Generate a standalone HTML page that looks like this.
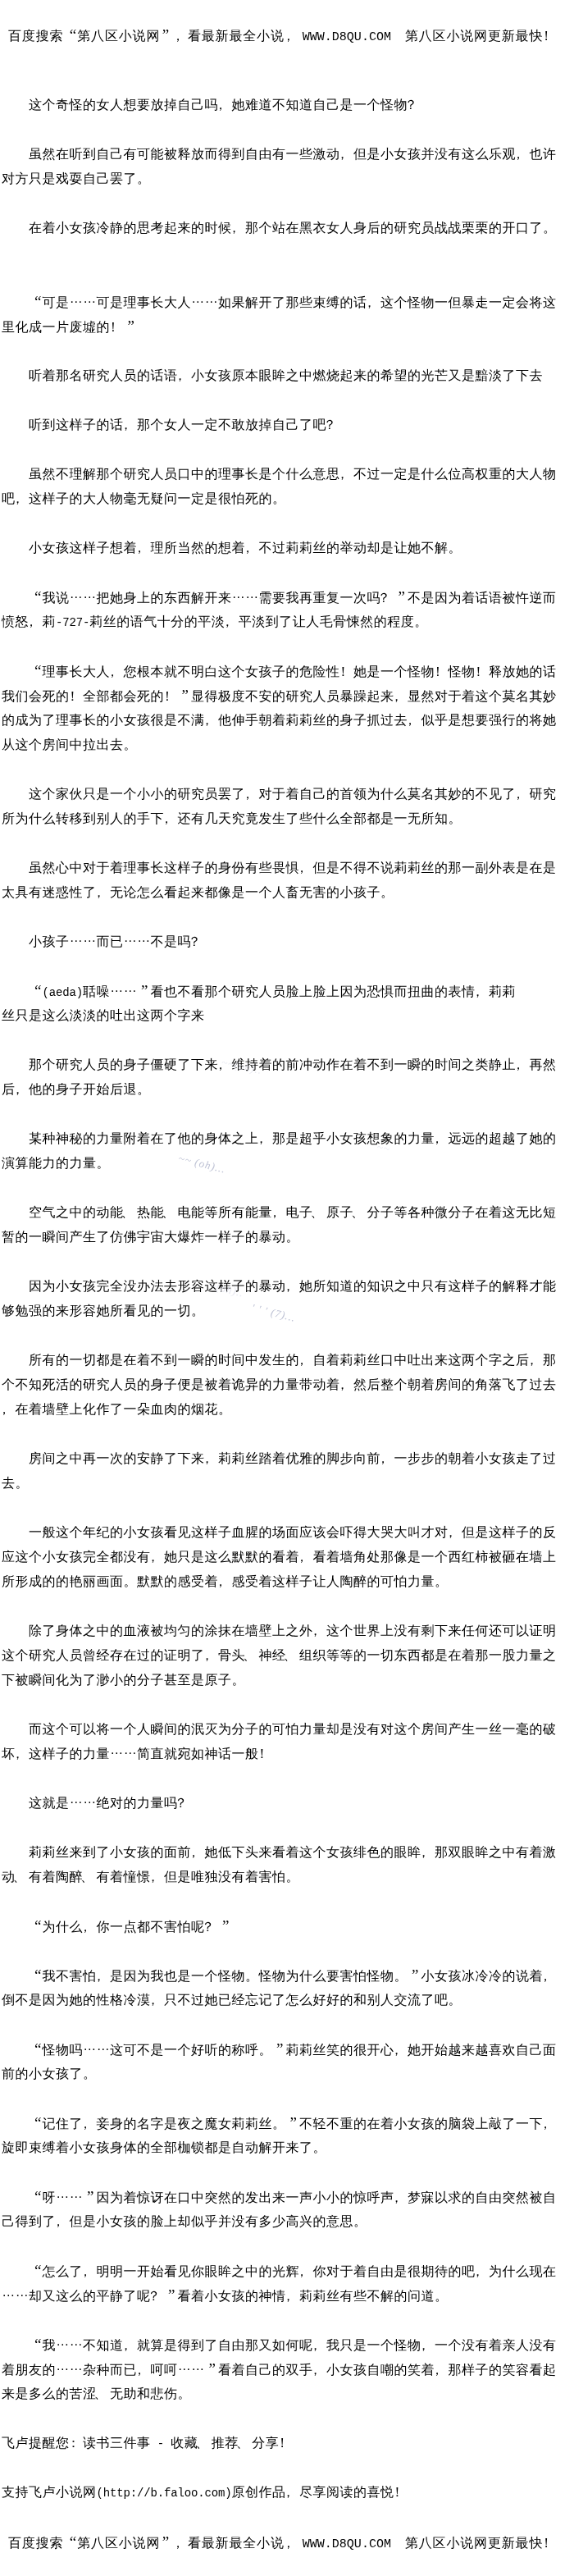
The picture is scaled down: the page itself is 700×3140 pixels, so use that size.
<!DOCTYPE html>
<html lang="zh-CN"><head><meta charset="utf-8"><title>第八区小说网</title><style>
html,body{margin:0;padding:0;background:#fff;}
body{width:700px;height:3140px;position:relative;overflow:hidden;}
#page{position:absolute;left:0;top:0;width:700px;height:3140px;overflow:hidden;will-change:transform;
 font-family:"Liberation Sans","WenQuanYi Zen Hei",sans-serif;font-size:16px;font-weight:400;color:#000;letter-spacing:.5px;}
.p{position:absolute;left:2px;height:30px;line-height:30px;white-space:pre;margin:0;}
.p.in{left:35px;}
.h{left:10px;letter-spacing:.84px;}
.l{font-family:"Liberation Mono",monospace;font-size:14px;letter-spacing:-.15px;}
.h .l{font-size:15px;letter-spacing:.03px;word-spacing:-.6px;padding-left:5px;}
i{font-style:normal;display:inline-block;width:16.5px;box-sizing:border-box;letter-spacing:0;}
.h i{width:16.84px;}
i.q{font-family:"Liberation Serif",serif;font-size:19px;text-align:right;padding-right:1px;}
i.q.r{padding-right:3px;}
i.e{text-align:center;position:relative;top:-5px;}
i.x{position:relative;left:-4px;}
i.c{position:relative;left:-5px;}
i.d{position:relative;left:-3px;}
.h i.c{left:-3px;}
.h i.q.r{padding-right:6px;}
.w{position:absolute;font:italic 13px "Liberation Serif",serif;letter-spacing:1px;color:#bfc3d5;white-space:pre;transform-origin:0 0;}
</style></head><body>
<div id="page">
<div class="p h" style="top:27.5px">百度搜索<i class="q">“</i>第八区小说网<i class="q r">”</i><i class="c">，</i>看最新最全小说<i class="c">，</i><span class="l">WWW.D8QU.COM&nbsp;&nbsp;</span>第八区小说网更新最快<i class="x">！</i></div>
<p class="p in" style="top:113px">这个奇怪的女人想要放掉自己吗<i class="c">，</i>她难道不知道自己是一个怪物<i class="x">？</i></p>
<p class="p in" style="top:173px">虽然在听到自己有可能被释放而得到自由有一些激动<i class="c">，</i>但是小女孩并没有这么乐观<i class="c">，</i>也许</p>
<p class="p" style="top:203px">对方只是戏耍自己罢了。</p>
<p class="p in" style="top:263px">在着小女孩冷静的思考起来的时候<i class="c">，</i>那个站在黑衣女人身后的研究员战战栗栗的开口了。</p>
<p class="p in" style="top:353px"><i class="q">“</i>可是<i class="e">…</i><i class="e">…</i>可是理事长大人<i class="e">…</i><i class="e">…</i>如果解开了那些束缚的话<i class="c">，</i>这个怪物一但暴走一定会将这</p>
<p class="p" style="top:383px">里化成一片废墟的<i class="x">！</i><i class="q r">”</i></p>
<p class="p in" style="top:443px">听着那名研究人员的话语<i class="c">，</i>小女孩原本眼眸之中燃烧起来的希望的光芒又是黯淡了下去</p>
<p class="p in" style="top:503px">听到这样子的话<i class="c">，</i>那个女人一定不敢放掉自己了吧<i class="x">？</i></p>
<p class="p in" style="top:563px">虽然不理解那个研究人员口中的理事长是个什么意思<i class="c">，</i>不过一定是什么位高权重的大人物</p>
<p class="p" style="top:593px">吧<i class="c">，</i>这样子的大人物毫无疑问一定是很怕死的。</p>
<p class="p in" style="top:653px">小女孩这样子想着<i class="c">，</i>理所当然的想着<i class="c">，</i>不过莉莉丝的举动却是让她不解。</p>
<p class="p in" style="top:713px"><i class="q">“</i>我说<i class="e">…</i><i class="e">…</i>把她身上的东西解开来<i class="e">…</i><i class="e">…</i>需要我再重复一次吗<i class="x">？</i><i class="q r">”</i>不是因为着话语被忤逆而</p>
<p class="p" style="top:743px">愤怒<i class="c">，</i>莉<span class="l">-727-</span>莉丝的语气十分的平淡<i class="c">，</i>平淡到了让人毛骨悚然的程度。</p>
<p class="p in" style="top:803px"><i class="q">“</i>理事长大人<i class="c">，</i>您根本就不明白这个女孩子的危险性<i class="x">！</i>她是一个怪物<i class="x">！</i>怪物<i class="x">！</i>释放她的话</p>
<p class="p" style="top:833px">我们会死的<i class="x">！</i>全部都会死的<i class="x">！</i><i class="q r">”</i>显得极度不安的研究人员暴躁起来<i class="c">，</i>显然对于着这个莫名其妙</p>
<p class="p" style="top:863px">的成为了理事长的小女孩很是不满<i class="c">，</i>他伸手朝着莉莉丝的身子抓过去<i class="c">，</i>似乎是想要强行的将她</p>
<p class="p" style="top:893px">从这个房间中拉出去。</p>
<p class="p in" style="top:953px">这个家伙只是一个小小的研究员罢了<i class="c">，</i>对于着自己的首领为什么莫名其妙的不见了<i class="c">，</i>研究</p>
<p class="p" style="top:983px">所为什么转移到别人的手下<i class="c">，</i>还有几天究竟发生了些什么全部都是一无所知。</p>
<p class="p in" style="top:1043px">虽然心中对于着理事长这样子的身份有些畏惧<i class="c">，</i>但是不得不说莉莉丝的那一副外表是在是</p>
<p class="p" style="top:1073px">太具有迷惑性了<i class="c">，</i>无论怎么看起来都像是一个人畜无害的小孩子。</p>
<p class="p in" style="top:1133px">小孩子<i class="e">…</i><i class="e">…</i>而已<i class="e">…</i><i class="e">…</i>不是吗<i class="x">？</i></p>
<p class="p in" style="top:1193px"><i class="q">“</i><span class="l">(aeda)</span>聒噪<i class="e">…</i><i class="e">…</i><i class="q r">”</i>看也不看那个研究人员脸上脸上因为恐惧而扭曲的表情<i class="c">，</i>莉莉</p>
<p class="p" style="top:1223px">丝只是这么淡淡的吐出这两个字来</p>
<p class="p in" style="top:1283px">那个研究人员的身子僵硬了下来<i class="c">，</i>维持着的前冲动作在着不到一瞬的时间之类静止<i class="c">，</i>再然</p>
<p class="p" style="top:1313px">后<i class="c">，</i>他的身子开始后退。</p>
<p class="p in" style="top:1373px">某种神秘的力量附着在了他的身体之上<i class="c">，</i>那是超乎小女孩想象的力量<i class="c">，</i>远远的超越了她的</p>
<p class="p" style="top:1403px">演算能力的力量。</p>
<p class="p in" style="top:1463px">空气之中的动能<i class="d">、</i>热能<i class="d">、</i>电能等所有能量<i class="c">，</i>电子<i class="d">、</i>原子<i class="d">、</i>分子等各种微分子在着这无比短</p>
<p class="p" style="top:1493px">暂的一瞬间产生了仿佛宇宙大爆炸一样子的暴动。</p>
<p class="p in" style="top:1553px">因为小女孩完全没办法去形容这样子的暴动<i class="c">，</i>她所知道的知识之中只有这样子的解释才能</p>
<p class="p" style="top:1583px">够勉强的来形容她所看见的一切。</p>
<p class="p in" style="top:1643px">所有的一切都是在着不到一瞬的时间中发生的<i class="c">，</i>自着莉莉丝口中吐出来这两个字之后<i class="c">，</i>那</p>
<p class="p" style="top:1673px">个不知死活的研究人员的身子便是被着诡异的力量带动着<i class="c">，</i>然后整个朝着房间的角落飞了过去</p>
<p class="p" style="top:1703px"><i class="c">，</i>在着墙壁上化作了一朵血肉的烟花。</p>
<p class="p in" style="top:1763px">房间之中再一次的安静了下来<i class="c">，</i>莉莉丝踏着优雅的脚步向前<i class="c">，</i>一步步的朝着小女孩走了过</p>
<p class="p" style="top:1793px">去。</p>
<p class="p in" style="top:1853px">一般这个年纪的小女孩看见这样子血腥的场面应该会吓得大哭大叫才对<i class="c">，</i>但是这样子的反</p>
<p class="p" style="top:1883px">应这个小女孩完全都没有<i class="c">，</i>她只是这么默默的看着<i class="c">，</i>看着墙角处那像是一个西红柿被砸在墙上</p>
<p class="p" style="top:1913px">所形成的的艳丽画面。默默的感受着<i class="c">，</i>感受着这样子让人陶醉的可怕力量。</p>
<p class="p in" style="top:1973px">除了身体之中的血液被均匀的涂抹在墙壁上之外<i class="c">，</i>这个世界上没有剩下来任何还可以证明</p>
<p class="p" style="top:2003px">这个研究人员曾经存在过的证明了<i class="c">，</i>骨头<i class="d">、</i>神经<i class="d">、</i>组织等等的一切东西都是在着那一股力量之</p>
<p class="p" style="top:2033px">下被瞬间化为了渺小的分子甚至是原子。</p>
<p class="p in" style="top:2093px">而这个可以将一个人瞬间的泯灭为分子的可怕力量却是没有对这个房间产生一丝一毫的破</p>
<p class="p" style="top:2123px">坏<i class="c">，</i>这样子的力量<i class="e">…</i><i class="e">…</i>简直就宛如神话一般<i class="x">！</i></p>
<p class="p in" style="top:2183px">这就是<i class="e">…</i><i class="e">…</i>绝对的力量吗<i class="x">？</i></p>
<p class="p in" style="top:2243px">莉莉丝来到了小女孩的面前<i class="c">，</i>她低下头来看着这个女孩绯色的眼眸<i class="c">，</i>那双眼眸之中有着激</p>
<p class="p" style="top:2273px">动<i class="d">、</i>有着陶醉<i class="d">、</i>有着憧憬<i class="c">，</i>但是唯独没有着害怕。</p>
<p class="p in" style="top:2333px"><i class="q">“</i>为什么<i class="c">，</i>你一点都不害怕呢<i class="x">？</i><i class="q r">”</i></p>
<p class="p in" style="top:2393px"><i class="q">“</i>我不害怕<i class="c">，</i>是因为我也是一个怪物。怪物为什么要害怕怪物。<i class="q r">”</i>小女孩冰冷冷的说着<i class="c">，</i></p>
<p class="p" style="top:2423px">倒不是因为她的性格冷漠<i class="c">，</i>只不过她已经忘记了怎么好好的和别人交流了吧。</p>
<p class="p in" style="top:2483px"><i class="q">“</i>怪物吗<i class="e">…</i><i class="e">…</i>这可不是一个好听的称呼。<i class="q r">”</i>莉莉丝笑的很开心<i class="c">，</i>她开始越来越喜欢自己面</p>
<p class="p" style="top:2513px">前的小女孩了。</p>
<p class="p in" style="top:2573px"><i class="q">“</i>记住了<i class="c">，</i>妾身的名字是夜之魔女莉莉丝。<i class="q r">”</i>不轻不重的在着小女孩的脑袋上敲了一下<i class="c">，</i></p>
<p class="p" style="top:2603px">旋即束缚着小女孩身体的全部枷锁都是自动解开来了。</p>
<p class="p in" style="top:2663px"><i class="q">“</i>呀<i class="e">…</i><i class="e">…</i><i class="q r">”</i>因为着惊讶在口中突然的发出来一声小小的惊呼声<i class="c">，</i>梦寐以求的自由突然被自</p>
<p class="p" style="top:2693px">己得到了<i class="c">，</i>但是小女孩的脸上却似乎并没有多少高兴的意思。</p>
<p class="p in" style="top:2753px"><i class="q">“</i>怎么了<i class="c">，</i>明明一开始看见你眼眸之中的光辉<i class="c">，</i>你对于着自由是很期待的吧<i class="c">，</i>为什么现在</p>
<p class="p" style="top:2783px"><i class="e">…</i><i class="e">…</i>却又这么的平静了呢<i class="x">？</i><i class="q r">”</i>看着小女孩的神情<i class="c">，</i>莉莉丝有些不解的问道。</p>
<p class="p in" style="top:2843px"><i class="q">“</i>我<i class="e">…</i><i class="e">…</i>不知道<i class="c">，</i>就算是得到了自由那又如何呢<i class="c">，</i>我只是一个怪物<i class="c">，</i>一个没有着亲人没有</p>
<p class="p" style="top:2873px">着朋友的<i class="e">…</i><i class="e">…</i>杂种而已<i class="c">，</i>呵呵<i class="e">…</i><i class="e">…</i><i class="q r">”</i>看着自己的双手<i class="c">，</i>小女孩自嘲的笑着<i class="c">，</i>那样子的笑容看起</p>
<p class="p" style="top:2903px">来是多么的苦涩<i class="d">、</i>无助和悲伤。</p>
<p class="p" style="top:2963px">飞卢提醒您<i class="d">：</i>读书三件事<span class="l">&nbsp;-&nbsp;</span>收藏<i class="d">、</i>推荐<i class="d">、</i>分享<i class="x">！</i></p>
<p class="p" style="top:3023px">支持飞卢小说网<span class="l">(http:</span><span class="l">//b.faloo.com)</span>原创作品<i class="c">，</i>尽享阅读的喜悦<i class="x">！</i></p>
<div class="p h" style="top:3084px">百度搜索<i class="q">“</i>第八区小说网<i class="q r">”</i><i class="c">，</i>看最新最全小说<i class="c">，</i><span class="l">WWW.D8QU.COM&nbsp;&nbsp;</span>第八区小说网更新最快<i class="x">！</i></div>
<span class="w" style="left:272px;top:1287px;transform:rotate(12deg);color:rgba(226,228,238,.8)">~~(oh)..</span>
<span class="w" style="left:220px;top:1404px;transform:rotate(14deg)">~~ (oh)...</span>
<span class="w" style="left:258px;top:1559px;transform:rotate(14deg);color:rgba(226,228,238,.8)">~(oh)..</span>
<span class="w" style="left:309px;top:1586px;transform:rotate(14deg)">&#x27; &#x27; &#x27; (7)...</span>
<span class="w" style="left:462px;top:1390px;transform:rotate(14deg);color:rgba(226,228,238,.8)">~~</span>
</div>
</body></html>
